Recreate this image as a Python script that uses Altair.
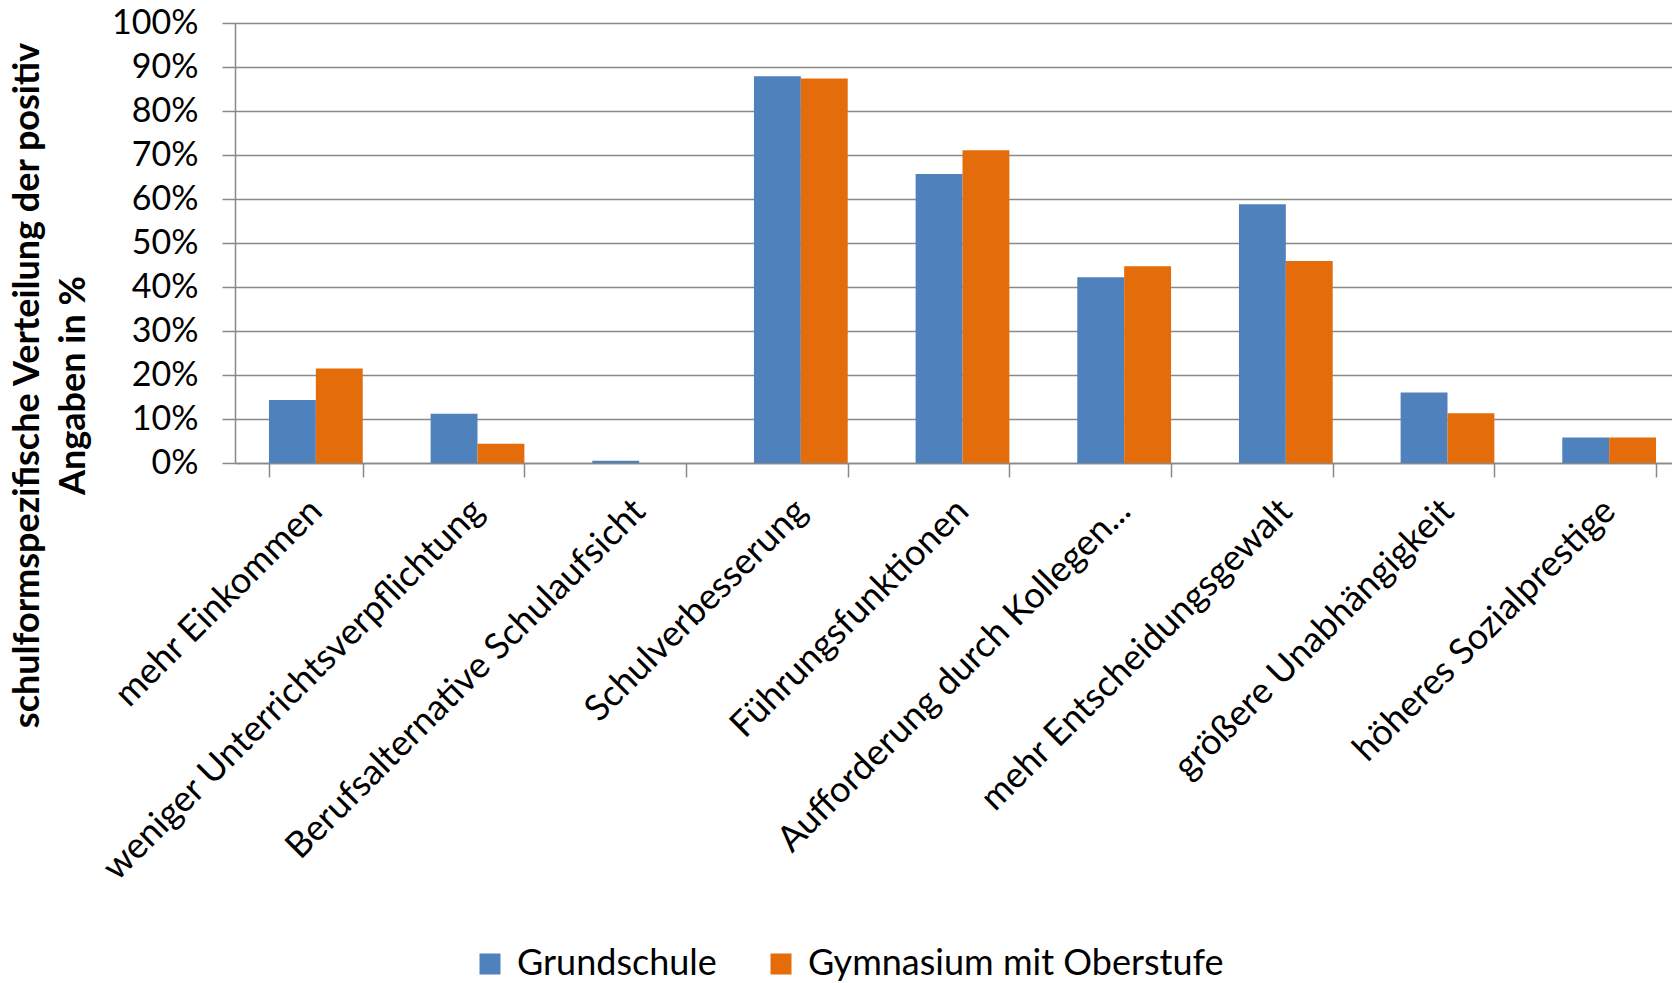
import altair as alt
import pandas as pd

# Survey categories (x axis) and the two school types
categories = [
    "mehr Einkommen",
    "weniger Unterrichtsverpflichtung",
    "Berufsalternative Schulaufsicht",
    "Schulverbesserung",
    "Führungsfunktionen",
    "Aufforderung durch Kollegen...",
    "mehr Entscheidungsgewalt",
    "größere Unabhängigkeit",
    "höheres Sozialprestige",
]
series = ["Grundschule", "Gymnasium mit Oberstufe"]

# Share of positive answers in percent
grundschule = [14.3, 11.2, 0.5, 87.9, 65.7, 42.2, 58.8, 16.0, 5.8]
gymnasium = [21.5, 4.4, 0.0, 87.4, 71.1, 44.7, 45.9, 11.3, 5.8]

y_ticks = [0, 10, 20, 30, 40, 50, 60, 70, 80, 90, 100]
colors = ["#4F81BD", "#E46C0A"]

rows = []
for cat, g, o in zip(categories, grundschule, gymnasium):
    rows.append({"Kategorie": cat, "Schulform": series[0], "Anteil": g / 100})
    rows.append({"Kategorie": cat, "Schulform": series[1], "Anteil": o / 100})
df = pd.DataFrame(rows)

FONT = "Lato"
GRID = "#898989"

# The category band runs a little past the right edge of the plot area,
# so the last group sits close to the border.
X_RANGE = [0, 1455]

chart = (
    alt.Chart(df)
    .mark_bar()
    .encode(
        x=alt.X(
            "Kategorie:N",
            sort=categories,
            scale=alt.Scale(range=X_RANGE, paddingInner=0.42, paddingOuter=0.21),
            axis=alt.Axis(
                title=None,
                labelAngle=-45,
                labelAlign="right",
                labelBaseline="middle",
                labelFontSize=36,
                labelFont=FONT,
                labelColor="#000000",
                labelPadding=28,
                labelLimit=1000,
                tickBand="extent",
                tickSize=14,
                tickColor=GRID,
                tickWidth=1.5,
                domainColor=GRID,
                domainWidth=1.5,
                grid=False,
            ),
        ),
        xOffset=alt.XOffset(
            "Schulform:N", sort=series, scale=alt.Scale(paddingInner=0, paddingOuter=0)
        ),
        y=alt.Y(
            "Anteil:Q",
            scale=alt.Scale(domain=[0, 1], nice=False),
            axis=alt.Axis(
                values=[v / 100 for v in y_ticks],
                format=".0%",
                title=["schulformspezifische Verteilung der positiv", "Angaben in %"],
                titleFont=FONT,
                titleFontSize=36,
                titleFontWeight="bold",
                titleColor="#000000",
                titleAngle=270,
                titleAlign="center",
                titleBaseline="top",
                titleLineHeight=46,
                titleX=-225,
                titleY=362,
                labelFontSize=34,
                labelFont=FONT,
                labelColor="#000000",
                labelPadding=24,
                tickSize=13,
                tickColor=GRID,
                tickWidth=1.5,
                domainColor=GRID,
                domainWidth=1.5,
                gridColor=GRID,
                gridWidth=1.5,
            ),
        ),
        color=alt.Color(
            "Schulform:N",
            sort=series,
            scale=alt.Scale(domain=series, range=colors),
            legend=alt.Legend(
                title=None,
                orient="none",
                direction="horizontal",
                legendX=237,
                legendY=923,
                symbolType="square",
                symbolSize=441,
                symbolStrokeWidth=0,
                symbolOpacity=1,
                labelFont=FONT,
                labelFontSize=36,
                labelColor="#000000",
                labelLimit=1000,
                labelOffset=9,
                columnPadding=46,
            ),
        ),
    )
    .properties(
        width=1437,
        height=440,
        autosize=alt.AutoSizeParams(type="none"),
        padding={"left": 235, "top": 23, "right": 0, "bottom": 519},
    )
    .configure_view(stroke=None)
    .configure(background="#ffffff")
)

chart.save("out.html", embed_options={"renderer": "svg", "actions": False})
